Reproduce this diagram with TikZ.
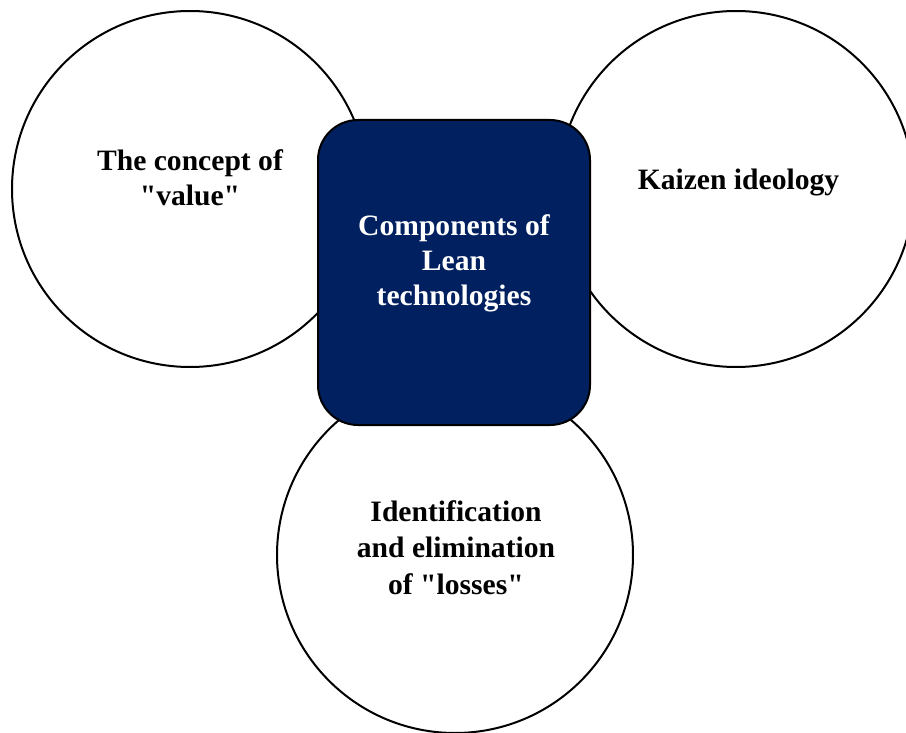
\documentclass[tikz,border=0pt]{standalone}
\usepackage{fontspec}
\setmainfont{Liberation Serif}
\definecolor{navy}{RGB}{0,32,96}
\begin{document}
\begin{tikzpicture}[x=1pt,y=-1pt,
  bubble/.style={circle,draw=black,fill=white,line width=2pt,minimum size=356pt,inner sep=0pt},
  corebox/.style={rectangle,rounded corners=40pt,draw=black,fill=navy,line width=2pt,minimum width=272pt,minimum height=305pt,inner sep=0pt},
  lbl/.style={align=center,font=\fontsize{29.6}{35}\selectfont\bfseries,inner sep=0pt}]
\useasboundingbox (0,0) rectangle (906,733);
\node[bubble] (c1) at (190,189) {};
\node[bubble] (c2) at (736,189) {};
\node[bubble] (c3) at (455,555) {};
\node[corebox] (core) at (454,272.5) {};
\node[lbl] (t1) at (190,178) {The concept of\\\textquotedbl value\textquotedbl};
\node[lbl] (t2) at (738.5,182) {Kaizen ideology};
\node[lbl,text=white] (t0) at (454,263) {Components of\\Lean\\technologies};
\node[lbl,font=\fontsize{29.6}{36.5}\selectfont\bfseries] (t3) at (456,547.5) {Identification\\and elimination\\of \textquotedbl losses\textquotedbl};
\end{tikzpicture}
\end{document}
